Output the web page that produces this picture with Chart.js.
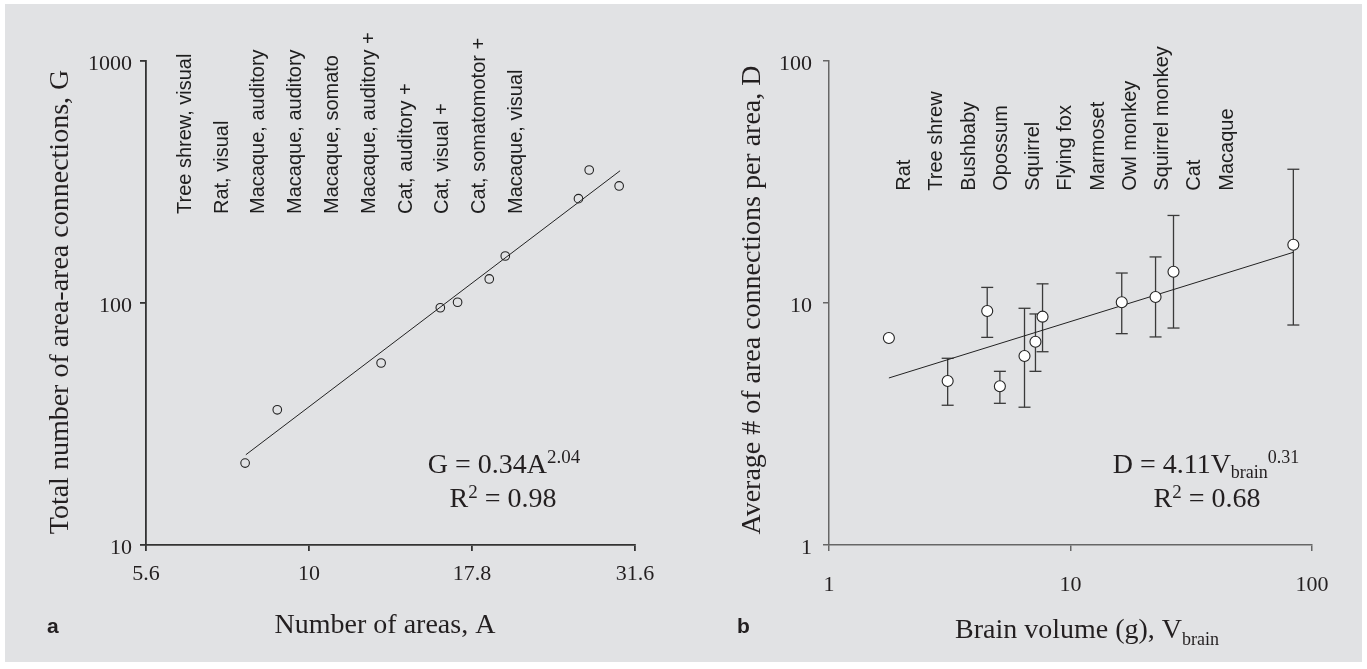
<!DOCTYPE html>
<html>
<head>
<meta charset="utf-8">
<script src="https://cdn.jsdelivr.net/npm/chart.js@4.4.1/dist/chart.umd.min.js"></script>
<style>
  html, body { margin: 0; padding: 0; background: #fff; }
  #panel { position: absolute; left: 5px; top: 4px; width: 1357px; height: 658px; background: #e1e2e4; }
  canvas { position: absolute; top: 0; }
  #chartA { left: 0; }
  #chartB { left: 683px; }
</style>
</head>
<body>
<div id="panel"></div>
<canvas id="chartA" width="683" height="669"></canvas>
<canvas id="chartB" width="684" height="669"></canvas>
<script>
// ---- panel a: number of areas vs total connections
const systemLabels = ['Tree shrew, visual', 'Rat, visual', 'Macaque, auditory', 'Macaque, auditory',
  'Macaque, somato', 'Macaque, auditory +', 'Cat, auditory +', 'Cat, visual +',
  'Cat, somatomotor +', 'Macaque, visual'];
const numAreas = [7.98, 8.94, 12.9, 15.9, 16.9, 18.9, 20.0, 25.9, 26.9, 29.9];
const numConnections = [21.8, 36.2, 56.5, 95.6, 100.7, 125.7, 156.4, 269.8, 354.5, 304.5];
const fitAreas = [8.0, 30.0];
const fitConnections = [23.6, 352];
const areaTicks = [5.6234, 10, 17.783, 31.623];
const areaTickLabels = ['5.6', '10', '17.8', '31.6'];
const connTicks = [10, 100, 1000];
const connTickLabels = ['10', '100', '1000'];

// ---- panel b: brain volume vs connections per area
const speciesLabels = ['Rat', 'Tree shrew', 'Bushbaby', 'Opossum', 'Squirrel', 'Flying fox',
  'Marmoset', 'Owl monkey', 'Squirrel monkey', 'Cat', 'Macaque'];
const brainVolume = [1.77, 3.10, 4.52, 5.10, 6.45, 7.16, 7.66, 16.3, 22.5, 26.7, 83.7];
const connPerArea = [7.17, 4.76, 9.27, 4.53, 6.04, 6.92, 8.78, 10.07, 10.58, 13.47, 17.4];
const connUpper = [null, 5.91, 11.6, 5.22, 9.51, 9.01, 12.0, 13.3, 15.5, 23.0, 35.7];
const connLower = [null, 3.78, 7.21, 3.85, 3.71, 5.22, 6.29, 7.47, 7.24, 7.88, 8.11];
const fitVolume = [1.77, 83.7];
const fitConnPerArea = [4.9, 16.2];
const volumeTicks = [1, 10, 100];
const volumeTickLabels = ['1', '10', '100'];
const perAreaTicks = [1, 10, 100];
const perAreaTickLabels = ['1', '10', '100'];

const serif = "'Liberation Serif', 'Times New Roman', serif";
const sans = "'Liberation Sans', Arial, sans-serif";
const ink = '#231f20';

function logAxis(position, min, max, values, labels, o) {
  return {
    type: 'logarithmic', position, min, max,
    afterBuildTicks: s => { s.ticks = values.map(v => ({ value: v })); },
    afterFit: s => { if (position === 'left') s.width = o.size; else s.height = o.size; },
    ticks: {
      autoSkip: false, maxRotation: 0, minRotation: 0, padding: o.pad, labelOffset: o.labelOffset || 0,
      color: ink, font: { family: serif, size: 22 },
      callback: (v, i) => labels[i]
    },
    grid: { drawOnChartArea: false, drawTicks: true, tickLength: 6, color: o.color, lineWidth: o.lw },
    border: { display: true, color: o.color, width: o.lw }
  };
}

// draws text made of parts with different sizes / baselines, centred on cx
function richLine(ctx, parts, cx, base) {
  let total = 0;
  parts.forEach(p => { ctx.font = p.size + 'px ' + serif; p.w = ctx.measureText(p.t).width; total += p.w; });
  let x = cx - total / 2;
  ctx.textAlign = 'left';
  ctx.textBaseline = 'alphabetic';
  parts.forEach(p => {
    ctx.font = p.size + 'px ' + serif;
    ctx.fillText(p.t, x, base + (p.dy || 0));
    x += p.w;
  });
}

function rotatedLabels(ctx, labels, x0, step, bottom) {
  ctx.font = '20px ' + sans;
  ctx.fillStyle = '#1e1e1e';
  ctx.textAlign = 'left';
  ctx.textBaseline = 'alphabetic';
  labels.forEach((t, i) => {
    ctx.save();
    ctx.translate(x0 + i * step, bottom);
    ctx.rotate(-Math.PI / 2);
    ctx.fillText(t, 0, 0);
    ctx.restore();
  });
}

function rotatedTitle(ctx, text, x, cy) {
  ctx.save();
  ctx.font = '28px ' + serif;
  ctx.fillStyle = ink;
  ctx.textAlign = 'center';
  ctx.textBaseline = 'alphabetic';
  ctx.translate(x, cy);
  ctx.rotate(-Math.PI / 2);
  ctx.fillText(text, 0, 0);
  ctx.restore();
}

function panelLetter(ctx, t, x, y) {
  ctx.font = 'bold 21px ' + sans;
  ctx.fillStyle = ink;
  ctx.textAlign = 'left';
  ctx.textBaseline = 'alphabetic';
  ctx.fillText(t, x, y);
}

const textA = {
  id: 'textA',
  afterDraw(chart) {
    const ctx = chart.ctx;
    ctx.save();
    rotatedLabels(ctx, systemLabels, 190.7, 36.8, 214);
    rotatedTitle(ctx, 'Total number of area-area connections, G', 68, 302);
    ctx.fillStyle = ink;
    richLine(ctx, [{ t: 'G = 0.34A', size: 28 }, { t: '2.04', size: 19, dy: -10 }], 504, 473);
    richLine(ctx, [{ t: 'R', size: 28 }, { t: '2', size: 19, dy: -9 }, { t: ' = 0.98', size: 28 }], 503, 507);
    richLine(ctx, [{ t: 'Number of areas, A', size: 28 }], 385, 633);
    panelLetter(ctx, 'a', 47, 633);
    ctx.restore();
  }
};

const textB = {
  id: 'textB',
  afterDraw(chart) {
    const ctx = chart.ctx;
    ctx.save();
    rotatedLabels(ctx, speciesLabels, 227, 32.27, 190.7);
    rotatedTitle(ctx, 'Average # of area connections per area, D', 77, 300);
    ctx.fillStyle = ink;
    richLine(ctx, [{ t: 'D = 4.11V', size: 28 }, { t: 'brain', size: 18, dy: 5 }, { t: '0.31', size: 18, dy: -10 }], 523, 473);
    richLine(ctx, [{ t: 'R', size: 28 }, { t: '2', size: 19, dy: -9 }, { t: ' = 0.68', size: 28 }], 524, 507);
    richLine(ctx, [{ t: 'Brain volume (g), V', size: 28 }, { t: 'brain', size: 18, dy: 7 }], 404, 638);
    panelLetter(ctx, 'b', 54, 633);
    ctx.restore();
  }
};

const common = {
  responsive: false,
  animation: false,
  events: [],
  plugins: { legend: { display: false }, tooltip: { enabled: false } }
};

new Chart(document.getElementById('chartA'), {
  type: 'scatter',
  data: {
    datasets: [
      {
        data: numAreas.map((a, i) => ({ x: a, y: numConnections[i] })),
        pointStyle: 'circle', pointRadius: 4.3, pointBorderWidth: 1.1,
        pointBorderColor: '#222', pointBackgroundColor: 'rgba(0,0,0,0)'
      },
      {
        data: fitAreas.map((a, i) => ({ x: a, y: fitConnections[i] })),
        showLine: true, borderColor: '#222', borderWidth: 1, pointRadius: 0
      }
    ]
  },
  options: {
    ...common,
    layout: { padding: { left: 0, right: 48, top: 61, bottom: 0 } },
    scales: {
      x: logAxis('bottom', 5.6234, 31.623, areaTicks, areaTickLabels, { size: 124, pad: 10, color: '#333', lw: 1.8 }),
      y: logAxis('left', 10, 1000, connTicks, connTickLabels, { size: 146, pad: 8, labelOffset: 3, color: '#333', lw: 1.8 })
    }
  },
  plugins: [textA]
});

const errorBars = [];
brainVolume.forEach((v, i) => {
  if (connUpper[i] == null) return;
  errorBars.push({ x: v, y: connLower[i] }, { x: v, y: connUpper[i] }, { x: v, y: null });
});

new Chart(document.getElementById('chartB'), {
  type: 'scatter',
  data: {
    datasets: [
      {
        data: brainVolume.map((v, i) => ({ x: v, y: connPerArea[i] })),
        pointStyle: 'circle', pointRadius: 5.5, pointBorderWidth: 1.1,
        pointBorderColor: '#222', pointBackgroundColor: '#fff'
      },
      {
        data: fitVolume.map((v, i) => ({ x: v, y: fitConnPerArea[i] })),
        showLine: true, borderColor: '#222', borderWidth: 1, pointRadius: 0
      },
      {
        data: errorBars,
        showLine: true, spanGaps: false, borderColor: '#3a3a3a', borderWidth: 1.3,
        pointStyle: 'line', pointRadius: 6, pointBorderWidth: 1.3, pointBorderColor: '#3a3a3a'
      }
    ]
  },
  options: {
    ...common,
    layout: { padding: { left: 0, right: 55, top: 61, bottom: 0 } },
    scales: {
      x: logAxis('bottom', 1, 100, volumeTicks, volumeTickLabels, { size: 124, pad: 21, color: '#666', lw: 1.5 }),
      y: logAxis('left', 1, 100, perAreaTicks, perAreaTickLabels, { size: 146, pad: 11, labelOffset: 3, color: '#666', lw: 1.5 })
    }
  },
  plugins: [textB]
});
</script>
</body>
</html>
